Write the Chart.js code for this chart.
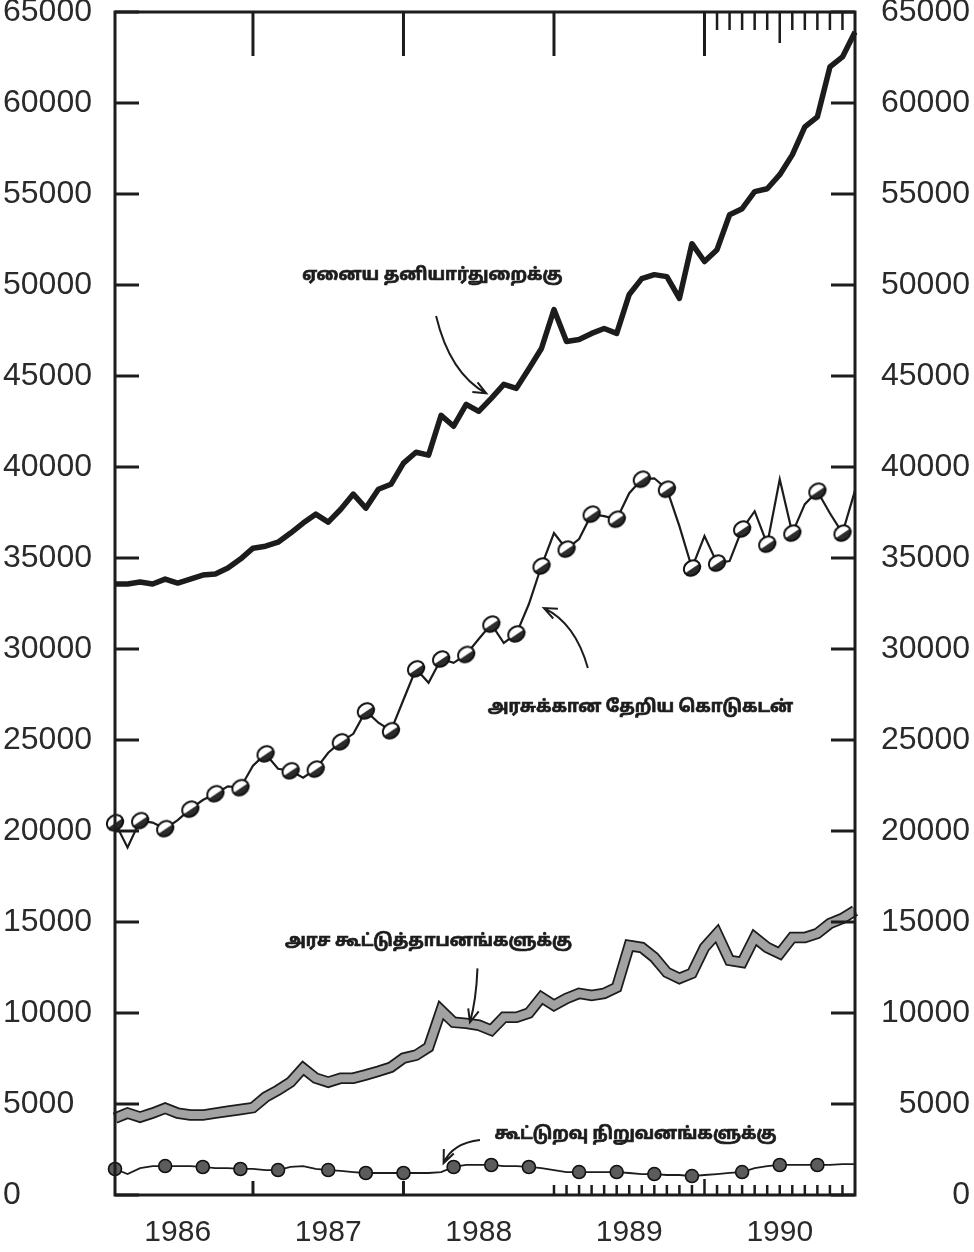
<!DOCTYPE html>
<html>
<head>
<meta charset="utf-8">
<script src="https://cdn.jsdelivr.net/npm/chart.js@4.4.1/dist/chart.umd.min.js"></script>
<style>
  html, body { margin: 0; padding: 0; background: #fff; }
  #wrap { width: 974px; height: 1252px; position: relative; }
</style>
</head>
<body>
<div id="wrap"><canvas id="creditChart"></canvas></div>
<script>
// Month-end values, January 1986 to December 1990
const years = ['1986', '1987', '1988', '1989', '1990'];
const monthNames = ['Jan', 'Feb', 'Mar', 'Apr', 'May', 'Jun', 'Jul', 'Aug', 'Sep', 'Oct', 'Nov', 'Dec'];
const months = years.flatMap(y => monthNames.map(m => m + ' ' + y));

const yTicks = [0, 5000, 10000, 15000, 20000, 25000, 30000, 35000, 40000, 45000, 50000, 55000, 60000, 65000];

// ஏனைய தனியார்துறைக்கு (other private sector)
const privateSector = [
  33570, 33570, 33680, 33570, 33840, 33620, 33840, 34060, 34120, 34450, 34940, 35540,
  35650, 35870, 36370, 36920, 37410, 36970, 37680, 38510, 37740, 38780, 39050, 40210,
  40810, 40650, 42840, 42240, 43440, 43060, 43770, 44540, 44320, 45400, 46510, 48650,
  46900, 47010, 47340, 47610, 47340, 49480, 50350, 50570, 50460, 49260, 52270, 51290,
  51940, 53860, 54190, 55130, 55290, 56060, 57150, 58690, 59240, 61980, 62530, 63900
];

// அரசுக்கான தேறிய கொடுகடன் (net credit to government)
const govCredit = [
  20460, 19090, 20570, 20460, 20130, 20600, 21200, 21700, 22050, 22450, 22380, 23590,
  24240, 23420, 23310, 22930, 23400, 24300, 24900, 25340, 26600, 25950, 25510, 27210,
  28910, 28140, 29450, 29240, 29700, 30550, 31370, 30330, 30830, 32470, 34560, 36370,
  35490, 36040, 37410, 37300, 37130, 38560, 39330, 39380, 38780, 36750, 34450, 36200,
  34720, 34830, 36590, 37570, 35760, 39330, 36370, 37960, 38670, 37460, 36370, 38700
];

// அரச கூட்டுத்தாபனங்களுக்கு (public corporations)
const publicCorp = [
  4220, 4500, 4280, 4500, 4770, 4500, 4400, 4390, 4500, 4600, 4700, 4800,
  5380, 5760, 6200, 6970, 6420, 6200, 6420, 6420, 6600, 6800, 7020, 7520,
  7680, 8120, 10150, 9490, 9430, 9330, 9050, 9760, 9760, 10000, 10860, 10420,
  10800, 11080, 10970, 11080, 11410, 13710, 13600, 13050, 12230, 11900, 12180, 13600,
  14370, 12890, 12780, 14150, 13600, 13270, 14150, 14150, 14370, 14920, 15200, 15630
];

// கூட்டுறவு நிறுவனங்களுக்கு (co-operatives)
const coops = [
  1430, 1150, 1480, 1590, 1590, 1590, 1590, 1540, 1480, 1480, 1430, 1430,
  1370, 1370, 1540, 1590, 1430, 1370, 1320, 1260, 1210, 1210, 1210, 1210,
  1210, 1210, 1260, 1540, 1650, 1650, 1650, 1590, 1590, 1540, 1480, 1370,
  1260, 1260, 1260, 1260, 1260, 1210, 1150, 1150, 1100, 1100, 1040, 1100,
  1150, 1210, 1260, 1480, 1590, 1650, 1650, 1650, 1650, 1650, 1700, 1700
];

const INK = '#1c1c1c';
const TAMIL = "'Noto Sans Tamil', 'Noto Serif Tamil', 'Lohit Tamil', 'Latha', 'Noto Sans', sans-serif";
const LATIN = "'Liberation Sans', Arial, sans-serif";

// Labels with arrows, placed in data units (month index, value)
const notes = [
  { text: 'ஏனைய தனியார்துறைக்கு', at: [25.3, 50460], from: [25.6, 48300], via: [26.7, 45140], to: [29.6, 44050] },
  { text: 'அரசுக்கான தேறிய கொடுகடன்', at: [41.9, 26710], from: [37.7, 28960], via: [36.7, 31430], to: [34.2, 32250] },
  { text: 'அரச கூட்டுத்தாபனங்களுக்கு', at: [25.0, 13880], from: [28.9, 12450], via: [28.8, 10700], to: [28.3, 9490] },
  { text: 'கூட்டுறவு நிறுவனங்களுக்கு', at: [41.5, 3290], from: [29.1, 3020], via: [26.9, 2850], to: [26.2, 1755] }
];

// half-shaded oval marker used on the government credit line
function makeOval() {
  const c = document.createElement('canvas');
  c.width = 22; c.height = 22;
  const g = c.getContext('2d');
  g.translate(11, 11);
  g.rotate(-0.6);
  g.beginPath();
  g.ellipse(0, 0, 8.6, 7.2, 0, 0, Math.PI * 2);
  g.fillStyle = '#fff';
  g.fill();
  g.save();
  g.clip();
  g.fillStyle = '#2b2b2b';
  g.fillRect(-11, 0.5, 22, 11);
  g.restore();
  g.lineWidth = 2;
  g.strokeStyle = '#111';
  g.stroke();
  return c;
}
const oval = makeOval();

// co-operative markers fall roughly every 3.3 months
const coopMarks = new Set();
for (let k = 0; k * 3.3 < 59; k++) coopMarks.add(Math.round(k * 3.3 + 0.2));

const framePlugin = {
  id: 'frame',
  afterDatasetsDraw(chart) {
    const { ctx, chartArea: a, scales: { x, y } } = chart;
    ctx.save();
    ctx.strokeStyle = INK;
    ctx.lineWidth = 3;
    ctx.strokeRect(a.left, a.top, a.right - a.left, a.bottom - a.top);
    ctx.beginPath();
    y.ticks.forEach(t => {
      const py = y.getPixelForValue(t.value);
      ctx.moveTo(a.left, py); ctx.lineTo(a.left + 24, py);
      ctx.moveTo(a.right, py); ctx.lineTo(a.right - 24, py);
    });
    // year ends along the top
    [11, 23, 35, 47].forEach(i => {
      const px = x.getPixelForValue(i);
      ctx.moveTo(px, a.top); ctx.lineTo(px, a.top + 44);
    });
    // year ends along the bottom (first two years)
    [11, 23].forEach(i => {
      const px = x.getPixelForValue(i);
      ctx.moveTo(px, a.bottom); ctx.lineTo(px, a.bottom - 14);
    });
    ctx.stroke();
    ctx.lineWidth = 2.5;
    ctx.beginPath();
    for (let i = 48; i < 59; i++) {
      const px = x.getPixelForValue(i);
      ctx.moveTo(px, a.top); ctx.lineTo(px, a.top + (i === 53 ? 31 : 18));
    }
    for (let i = 35; i < 59; i++) {
      const px = x.getPixelForValue(i);
      ctx.moveTo(px, a.bottom); ctx.lineTo(px, a.bottom - (i === 47 ? 16 : 10));
    }
    ctx.stroke();
    ctx.restore();
  }
};

const notesPlugin = {
  id: 'notes',
  afterDraw(chart) {
    const { ctx, scales: { x, y } } = chart;
    const pt = p => [x.getPixelForValue(p[0]), y.getPixelForValue(p[1])];
    ctx.save();
    ctx.fillStyle = INK;
    ctx.strokeStyle = INK;
    ctx.font = 'bold 17px ' + TAMIL;
    ctx.textAlign = 'center';
    ctx.textBaseline = 'middle';
    notes.forEach(n => {
      const [tx, ty] = pt(n.at);
      // a thin stroke thickens the glyphs like the printed lettering
      ctx.lineWidth = 0.7;
      ctx.fillText(n.text, tx, ty);
      ctx.strokeText(n.text, tx, ty);
      const [x0, y0] = pt(n.from);
      const [x1, y1] = pt(n.via);
      const [x2, y2] = pt(n.to);
      ctx.lineWidth = 2;
      ctx.beginPath();
      ctx.moveTo(x0, y0);
      ctx.quadraticCurveTo(x1, y1, x2, y2);
      const ang = Math.atan2(y2 - y1, x2 - x1);
      ctx.moveTo(x2 - 14 * Math.cos(ang - 0.4), y2 - 14 * Math.sin(ang - 0.4));
      ctx.lineTo(x2, y2);
      ctx.lineTo(x2 - 14 * Math.cos(ang + 0.4), y2 - 14 * Math.sin(ang + 0.4));
      ctx.stroke();
    });
    ctx.restore();
  }
};

const valueAxis = (position) => ({
  position: position,
  min: 0,
  max: 65000,
  afterBuildTicks: scale => { scale.ticks = yTicks.map(v => ({ value: v })); },
  afterFit: scale => {
    scale.width = position === 'left' ? 112 : 115;
    scale.paddingTop = 0;
    scale.paddingBottom = 0;
  },
  grid: { display: false, drawTicks: false },
  border: { display: false },
  ticks: {
    crossAlign: 'far',
    padding: 0,
    color: '#2a2a2a',
    font: { size: 32, family: LATIN },
    callback: v => String(v)
  }
});

new Chart(document.getElementById('creditChart'), {
  type: 'line',
  data: {
    labels: months,
    datasets: [
      {
        label: 'ஏனைய தனியார்துறைக்கு',
        data: privateSector,
        borderColor: INK,
        borderWidth: 5.5,
        borderJoinStyle: 'round',
        pointRadius: 0,
        order: 0
      },
      {
        label: 'அரசுக்கான தேறிய கொடுகடன்',
        data: govCredit,
        borderColor: INK,
        borderWidth: 2.2,
        pointStyle: oval,
        pointRadius: ctx => (ctx.dataIndex % 2 === 0 ? 8 : 0),
        order: 1
      },
      {
        label: 'அரச கூட்டுத்தாபனங்களுக்கு',
        data: publicCorp,
        borderColor: '#a2a2a2',
        borderWidth: 8,
        borderJoinStyle: 'miter',
        pointRadius: 0,
        order: 2
      },
      {
        label: 'அரச கூட்டுத்தாபனங்களுக்கு (outline)',
        data: publicCorp,
        borderColor: INK,
        borderWidth: 11.5,
        borderJoinStyle: 'miter',
        pointRadius: 0,
        order: 3
      },
      {
        label: 'கூட்டுறவு நிறுவனங்களுக்கு',
        data: coops,
        borderColor: INK,
        borderWidth: 1.8,
        pointStyle: 'circle',
        pointRadius: ctx => (coopMarks.has(ctx.dataIndex) ? 6.5 : 0),
        pointBackgroundColor: '#5c5c5c',
        pointBorderColor: '#111',
        pointBorderWidth: 1.6,
        order: 1
      }
    ]
  },
  options: {
    responsive: true,
    maintainAspectRatio: false,
    animation: false,
    layout: { padding: { top: 12, left: 3, right: 4, bottom: 0 } },
    plugins: {
      legend: { display: false },
      tooltip: { enabled: false }
    },
    elements: { line: { tension: 0 } },
    scales: {
      x: {
        type: 'category',
        offset: false,
        afterFit: scale => { scale.height = 57; },
        grid: { display: false, drawTicks: false },
        border: { display: false },
        ticks: {
          autoSkip: false,
          maxRotation: 0,
          padding: 20,
          color: '#2a2a2a',
          font: { size: 30, family: LATIN },
          callback: (v, i) => (i % 12 === 5 ? years[Math.floor(i / 12)] : '')
        }
      },
      y: valueAxis('left'),
      y2: valueAxis('right')
    }
  },
  plugins: [framePlugin, notesPlugin]
});
</script>
</body>
</html>
